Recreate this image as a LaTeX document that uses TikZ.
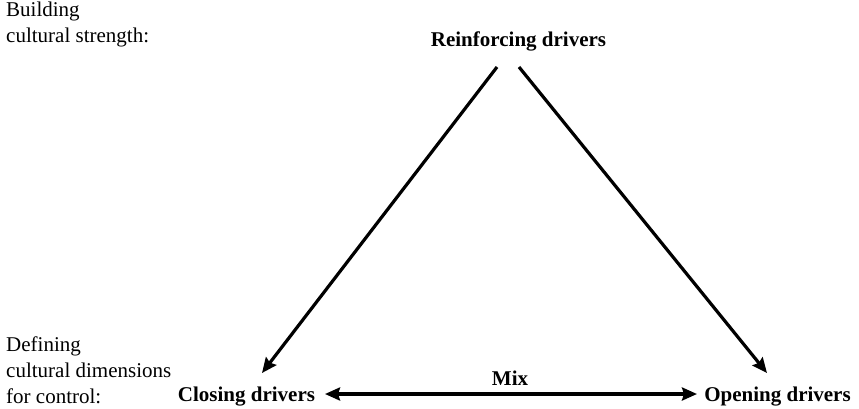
\documentclass[tikz,border=0pt]{standalone}
\usepackage{fontspec}
\setmainfont{Liberation Serif}
\usetikzlibrary{arrows.meta}
\begin{document}
\begin{tikzpicture}[x=1pt,y=-1pt,
  side/.style={anchor=north west,inner sep=0pt,align=left,font=\fontsize{21}{26}\selectfont},
  driver/.style={anchor=base,inner sep=0pt,font=\fontsize{21}{24}\selectfont\bfseries},
  link/.style={line width=3.2pt,-{Stealth[length=15pt,width=13pt,inset=2pt]}},
  twolink/.style={line width=3.2pt,{Stealth[length=15pt,width=13pt,inset=2pt]}-{Stealth[length=15pt,width=13pt,inset=2pt]}}]
\useasboundingbox (0,0) rectangle (859,408);
% side captions
\node[side] (build) at (6,2) {Building\\cultural strength:};
\node[side] (define) at (6,337) {Defining\\cultural dimensions\\for control:};
% the three kinds of drivers
\node[driver] (reinf) at (518.5,46) {Reinforcing drivers};
\node[driver] (close) at (246.5,401) {Closing drivers};
\node[driver] (open) at (777.5,401) {Opening drivers};
\node[driver] (mix) at (510,385) {Mix};
% connector ends
\coordinate (rl) at (497,67);
\coordinate (rr) at (519,67);
\coordinate (cl) at (262,373);
\coordinate (or) at (767,373);
\coordinate (hl) at (325,394);
\coordinate (hr) at (697,394);
\draw[link] (rl) -- (cl);
\draw[link] (rr) -- (or);
\draw[twolink] (hl) -- (hr);
\end{tikzpicture}
\end{document}
